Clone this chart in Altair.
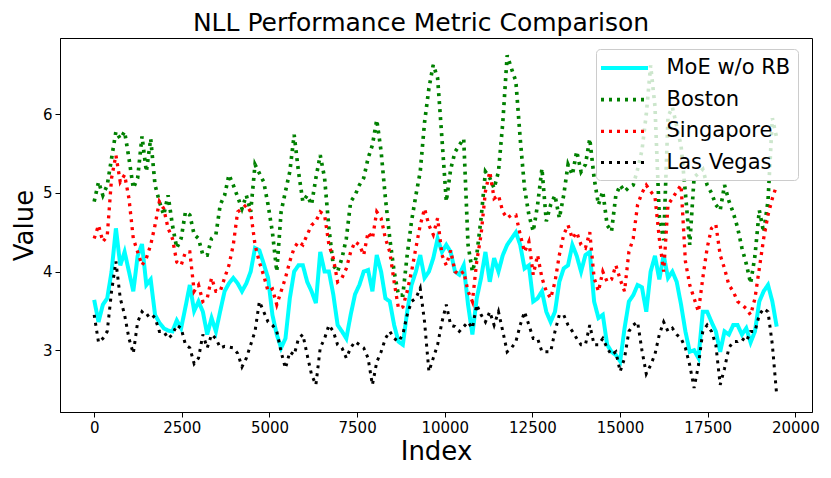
import altair as alt
import pandas as pd

STEP = 124  # spacing of the sampled index values

series_names = ["MoE w/o RB", "Boston", "Singapore", "Las Vegas"]
colors = ["#00ffff", "#008000", "#ff0000", "#000000"]
dashes = [[1, 0], [3, 5], [3, 5], [3, 5]]
widths = [4, 3, 3, 3]

x_ticks = [0, 2500, 5000, 7500, 10000, 12500, 15000, 17500, 20000]
y_ticks = [3, 4, 5, 6]

moe = [
    3.64, 3.36, 3.58, 3.66, 4.00, 4.55, 4.08, 4.25,
    4.00, 3.75, 4.20, 4.35, 3.83, 3.90, 3.45, 3.35,
    3.28, 3.25, 3.24, 3.38, 3.28, 3.55, 3.83, 3.50,
    3.62, 3.49, 3.20, 3.41, 3.24, 3.50, 3.75, 3.85,
    3.92, 3.85, 3.75, 3.85, 4.00, 4.30, 4.27, 4.10,
    3.92, 3.45, 3.20, 3.03, 3.15, 3.66, 4.00, 4.08,
    4.08, 3.87, 3.75, 3.60, 4.25, 4.00, 4.00, 3.71,
    3.32, 3.24, 3.15, 3.45, 3.71, 3.83, 4.00, 4.02,
    3.75, 4.21, 4.00, 3.66, 3.62, 3.32, 3.11, 3.07,
    3.49, 3.83, 4.00, 4.21, 3.92, 4.00, 4.17, 4.42,
    4.25, 4.34, 4.25, 4.00, 3.96, 4.08, 3.58, 3.20,
    3.66, 3.92, 4.25, 3.87, 4.17, 4.00, 4.21, 4.34,
    4.42, 4.50, 4.34, 4.04, 4.08, 3.62, 3.66, 3.75,
    3.49, 3.36, 3.49, 3.87, 4.04, 4.08, 4.34, 4.20,
    4.00, 4.21, 4.25, 3.62, 3.41, 3.45, 3.07, 2.98,
    2.94, 2.86, 3.28, 3.62, 3.70, 3.83, 3.80, 3.49,
    4.00, 4.20, 3.90, 4.21, 3.92, 4.00, 3.87, 3.58,
    3.24, 2.98, 3.00, 2.90, 3.49, 3.49, 3.36, 3.24,
    2.98, 3.24, 3.20, 3.32, 3.32, 3.20, 3.28, 3.10,
    3.24, 3.62, 3.75, 3.83, 3.62, 3.30,
]

boston = [
    4.89, 5.14, 4.97, 5.10, 5.44, 5.78, 5.69, 5.78,
    5.44, 5.06, 5.19, 5.72, 5.27, 5.69, 5.10, 4.89,
    4.72, 4.97, 4.59, 4.30, 4.42, 4.76, 4.72, 4.47,
    4.42, 4.21, 4.21, 4.42, 4.47, 4.85, 4.97, 5.23,
    5.10, 4.95, 4.80, 4.97, 4.76, 5.36, 5.25, 5.14,
    4.85, 4.50, 4.00, 4.76, 5.02, 5.27, 5.74, 5.27,
    4.89, 4.97, 4.85, 5.19, 5.48, 5.19, 4.55, 4.08,
    4.00, 4.17, 4.42, 4.89, 4.97, 5.10, 5.19, 5.44,
    5.61, 5.93, 5.53, 4.93, 4.42, 4.00, 3.70, 3.70,
    4.21, 4.64, 4.97, 5.27, 5.90, 6.33, 6.63, 6.46,
    5.69, 4.89, 5.30, 5.52, 5.61, 5.69, 4.34, 4.00,
    4.21, 4.68, 5.27, 5.19, 5.06, 5.27, 5.90, 6.75,
    6.58, 6.42, 5.69, 5.06, 4.72, 4.51, 4.85, 5.31,
    4.64, 4.85, 4.97, 4.68, 4.97, 5.36, 5.23, 5.53,
    5.27, 5.36, 5.69, 5.19, 4.85, 5.02, 4.59, 4.51,
    4.97, 5.10, 5.02, 5.07, 5.10, 5.30, 5.54, 6.00,
    6.62, 6.10, 4.70, 4.40, 5.97, 6.09, 5.85, 5.60,
    5.00, 4.34, 5.20, 5.25, 5.30, 5.10, 5.00, 4.85,
    4.78, 5.10, 4.90, 4.75, 4.56, 4.30, 4.10, 3.85,
    4.20, 4.78, 4.50, 4.90, 5.95, 5.70,
]

singapore = [
    4.42, 4.59, 4.38, 4.45, 5.19, 5.48, 5.14, 5.23,
    4.93, 4.42, 4.25, 4.08, 4.17, 4.34, 4.59, 4.89,
    4.80, 4.55, 4.42, 4.12, 4.08, 4.25, 4.25, 3.75,
    3.83, 3.62, 3.66, 3.92, 3.75, 3.75, 3.92, 4.08,
    4.34, 4.76, 4.80, 4.85, 4.76, 4.34, 4.12, 3.95,
    3.75, 3.78, 3.58, 3.75, 3.92, 4.13, 4.30, 4.38,
    4.34, 4.47, 4.59, 4.64, 4.76, 4.72, 4.34, 4.17,
    3.87, 3.92, 4.04, 4.25, 4.38, 4.34, 4.21, 4.50,
    4.42, 4.76, 4.68, 4.42, 4.25, 3.87, 3.53, 3.55,
    3.75, 4.00, 4.30, 4.59, 4.80, 4.59, 4.47, 4.68,
    4.21, 4.08, 4.27, 4.00, 3.96, 4.00, 3.75, 3.62,
    4.13, 4.47, 5.02, 5.27, 4.93, 4.97, 4.76, 4.68,
    4.72, 4.72, 4.47, 4.25, 4.38, 3.96, 4.21, 3.92,
    3.75, 3.66, 3.87, 4.21, 4.47, 4.59, 4.42, 4.50,
    4.34, 4.30, 4.50, 3.92, 3.75, 4.00, 3.87, 3.90,
    4.08, 3.90, 3.75, 4.25, 4.42, 4.85, 5.00, 5.10,
    5.02, 4.95, 4.42, 4.00, 4.85, 4.93, 5.02, 5.10,
    4.13, 3.83, 3.66, 3.49, 3.92, 4.30, 4.55, 4.60,
    4.21, 4.04, 3.83, 3.75, 3.62, 3.58, 3.53, 3.45,
    3.66, 4.04, 4.42, 4.72, 4.93, 5.10,
]

las_vegas = [
    3.45, 3.10, 3.15, 3.24, 3.75, 4.13, 3.66, 3.45,
    3.15, 2.96, 3.36, 3.49, 3.43, 3.47, 3.41, 3.24,
    3.24, 3.15, 3.20, 3.32, 3.28, 3.07, 3.03, 2.83,
    2.90, 3.20, 3.03, 3.20, 3.15, 3.03, 3.05, 3.04,
    3.03, 2.96, 2.79, 2.90, 3.07, 3.24, 3.62, 3.49,
    3.36, 3.32, 3.24, 2.98, 2.77, 2.98, 2.94, 3.15,
    3.20, 2.94, 2.69, 2.56, 3.03, 3.15, 3.32, 3.24,
    3.07, 3.03, 2.90, 3.03, 3.11, 3.07, 3.03, 2.90,
    2.56, 2.85, 2.98, 3.15, 3.24, 3.15, 3.11, 3.20,
    3.45, 3.62, 3.66, 3.79, 3.36, 2.73, 2.90, 3.07,
    3.36, 3.58, 3.32, 3.30, 3.24, 3.30, 3.36, 3.28,
    3.58, 3.45, 3.36, 3.49, 3.32, 3.49, 3.24, 2.98,
    3.03, 3.11, 3.32, 3.49, 3.32, 3.15, 3.15, 2.98,
    2.98, 2.98, 3.24, 3.45, 3.45, 3.32, 3.24, 3.15,
    3.07, 3.07, 3.32, 3.07, 3.07, 3.15, 3.03, 2.94,
    2.98, 2.73, 2.90, 3.24, 3.32, 3.36, 3.00, 2.70,
    2.81, 2.95, 3.20, 3.36, 3.24, 3.28, 3.20, 3.15,
    3.03, 2.81, 2.52, 2.81, 3.24, 3.32, 3.24, 3.07,
    2.56, 2.77, 3.03, 3.11, 3.11, 3.15, 3.11, 3.24,
    3.24, 3.45, 3.53, 3.49, 3.07, 2.43,
]

all_values = [moe, boston, singapore, las_vegas]
rows = []
for order, (name, vals) in enumerate(zip(series_names, all_values)):
    for k, v in enumerate(vals):
        rows.append({"Index": k * STEP, "Value": v, "Series": name, "o": order})
df = pd.DataFrame(rows)

FONT = "DejaVu Sans"
LEG = dict(title=None, orient="none", legendX=536, legendY=11)

x_enc = alt.X(
    "Index:Q",
    scale=alt.Scale(domain=[-975, 20475], nice=False, zero=False),
    axis=alt.Axis(values=x_ticks, format="d", title="Index", grid=False,
                  labelFontSize=15, titleFontSize=26, tickSize=5,
                  labelPadding=3, titlePadding=3, labelFlush=False),
)
y_enc = alt.Y(
    "Value:Q",
    scale=alt.Scale(domain=[2.215, 6.97], nice=False, zero=False),
    axis=alt.Axis(values=y_ticks, format="d", title="Value", grid=False,
                  labelFontSize=15, titleFontSize=26, tickSize=5,
                  labelPadding=3, titlePadding=5),
)
color_enc = alt.Color(
    "Series:N",
    scale=alt.Scale(domain=series_names, range=colors),
    sort=series_names,
    legend=alt.Legend(**LEG),
)
dash_enc = alt.StrokeDash(
    "Series:N", scale=alt.Scale(domain=series_names, range=dashes), sort=series_names,
    legend=alt.Legend(**LEG),
)
width_enc = alt.StrokeWidth(
    "Series:N", scale=alt.Scale(domain=series_names, range=widths), sort=series_names,
    legend=alt.Legend(**LEG),
)

base = alt.Chart(df).mark_line(strokeCap="butt", strokeJoin="miter").encode(
    x=x_enc, y=y_enc, color=color_enc, strokeDash=dash_enc, strokeWidth=width_enc,
)

layers = [base.transform_filter(alt.datum.Series == name) for name in series_names]

chart = alt.layer(*layers).properties(
    width=752,
    height=374,
    title=alt.TitleParams(
        "NLL Performance Metric Comparison", fontSize=25, font=FONT,
        fontWeight="normal", color="black", anchor="middle", offset=2, dx=-15,
    ),
    autosize=alt.AutoSizeParams(type="none"),
    padding={"left": 52, "top": 30, "right": 11, "bottom": 58},
).configure(
    font=FONT,
).configure_view(
    stroke="black", strokeWidth=1,
).configure_axis(
    labelFont=FONT, titleFont=FONT, labelColor="black", titleColor="black",
    domainColor="black", tickColor="black", titleFontWeight="normal",
).configure_legend(
    labelFont=FONT, labelFontSize=21, labelColor="black",
    symbolType="M-2.35,0H2.35", symbolSize=400, symbolStrokeWidth=3,
    symbolOffset=9.5,
    strokeColor="#cccccc", fillColor="rgba(255,255,255,0.8)", cornerRadius=4,
    padding=7, rowPadding=9.7, labelOffset=30,
)

chart.save("out.html", embed_options={"renderer": "svg", "actions": False})
